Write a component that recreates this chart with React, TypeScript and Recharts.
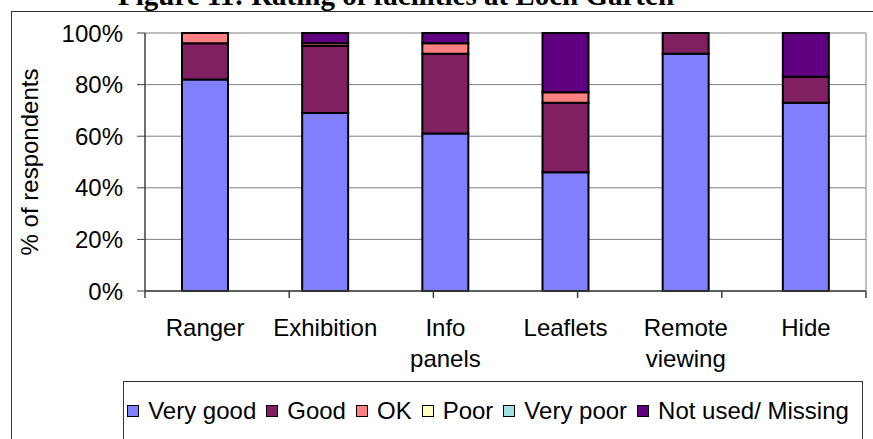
import React from "react";
import {
  BarChart,
  Bar,
  XAxis,
  YAxis,
  CartesianGrid,
  Legend,
  Label,
} from "recharts";

const categories = ["Ranger", "Exhibition", "Info panels", "Leaflets", "Remote viewing", "Hide"];
const veryGood = [82, 69, 61, 46, 92, 73];
const good = [14, 26, 31, 27, 8, 10];
const ok = [4, 1, 4, 4, 0, 0];
const poor = [0, 0, 0, 0, 0, 0];
const veryPoor = [0, 0, 0, 0, 0, 0];
const notUsed = [0, 4, 4, 23, 0, 17];
const yTicks = [0, 20, 40, 60, 80, 100];

const series = [
  { key: "veryGood", name: "Very good", color: "#8080FF", values: veryGood },
  { key: "good", name: "Good", color: "#802060", values: good },
  { key: "ok", name: "OK", color: "#FF8080", values: ok },
  { key: "poor", name: "Poor", color: "#FFFFC0", values: poor },
  { key: "veryPoor", name: "Very poor", color: "#A0E0E0", values: veryPoor },
  { key: "notUsed", name: "Not used/ Missing", color: "#600080", values: notUsed },
];

const data = categories.map((name, i) => {
  const row: Record<string, string | number> = { name };
  series.forEach((s) => (row[s.key] = s.values[i]));
  return row;
});

// ticks on the category boundaries, not the centres
const edgeTicks = categories.map((_, i) => i).concat(categories.length);

const FONT = "'Liberation Sans', Arial, sans-serif";
const AXIS = "#404040";
const GRID = "#808080";

function EdgeTick({ x, y }: any) {
  return <line x1={x} x2={x} y1={y} y2={y + 7} stroke={AXIS} strokeWidth={1.5} />;
}

function CategoryTick({ x, y, payload }: any) {
  const lines = String(payload.value).split(" ");
  return (
    <text x={x} y={y} textAnchor="middle" fill="#000" fontSize={24} fontFamily={FONT}>
      {lines.map((ln, i) => (
        <tspan key={i} x={x} dy={i === 0 ? 35 : 31}>
          {ln}
        </tspan>
      ))}
    </text>
  );
}

function YTitle({ viewBox }: any) {
  const cx = viewBox.x + 38;
  const cy = viewBox.y + viewBox.height / 2;
  return (
    <text
      x={cx}
      y={cy}
      transform={`rotate(-90 ${cx} ${cy})`}
      textAnchor="middle"
      fill="#000"
      fontSize={24}
      fontFamily={FONT}
    >
      % of respondents
    </text>
  );
}

function LegendBox({ payload }: any) {
  const items = [...(payload || [])].sort(
    (a: any, b: any) =>
      series.findIndex((s) => s.name === a.value) - series.findIndex((s) => s.name === b.value)
  );
  return (
    <div
      style={{
        display: "flex",
        justifyContent: "center",
        alignItems: "center",
        height: "100%",
        fontFamily: FONT,
        fontSize: 24,
        color: "#000",
        whiteSpace: "nowrap",
      }}
    >
      {items.map((p: any) => (
        <div key={p.value} style={{ display: "flex", alignItems: "center", marginRight: 10 }}>
          <span
            style={{
              width: 10,
              height: 10,
              background: p.color,
              border: "1px solid #000",
              marginRight: 9,
              display: "inline-block",
            }}
          />
          <span>{p.value}</span>
        </div>
      ))}
    </div>
  );
}

export default function App() {
  return (
    <div
      style={{
        position: "absolute",
        left: 0,
        top: 0,
        width: 873,
        height: 439,
        overflow: "hidden",
        background: "#fff",
      }}
    >
      <div
        style={{
          position: "absolute",
          left: 0,
          top: -19,
          width: 792,
          textAlign: "center",
          fontFamily: "'Liberation Serif', 'Times New Roman', serif",
          fontWeight: "bold",
          fontSize: 29,
          lineHeight: "29px",
          whiteSpace: "nowrap",
        }}
      >
        Figure 11: Rating of facilities at Loch Garten
      </div>
      <div
        style={{
          position: "absolute",
          left: 11,
          top: 11,
          width: 900,
          height: 500,
          border: "1px solid #333",
        }}
      />
      <div style={{ position: "absolute", left: 0, top: 0 }}>
        <BarChart
          width={873}
          height={439}
          data={data}
          margin={{ top: 33, right: 0, bottom: 87, left: 0 }}
        >
          <CartesianGrid stroke={GRID} vertical={false} />
          <XAxis
            type="number"
            domain={[0, categories.length]}
            ticks={edgeTicks}
            interval={0}
            height={1}
            tickLine={false}
            tickSize={0}
            tickMargin={0}
            tick={<EdgeTick />}
            axisLine={{ stroke: AXIS, strokeWidth: 1.5 }}
          />
          <XAxis
            xAxisId="cat"
            dataKey="name"
            height={60}
            interval={0}
            axisLine={false}
            tickLine={false}
            tickSize={7}
            tick={<CategoryTick />}
          />
          <YAxis
            domain={[0, 100]}
            ticks={yTicks}
            interval={0}
            width={145}
            tickFormatter={(v) => `${v}%`}
            tick={{ fill: "#000", fontSize: 24, fontFamily: FONT }}
            axisLine={{ stroke: AXIS, strokeWidth: 1.5 }}
            tickLine={{ stroke: AXIS }}
            tickSize={8}
            tickMargin={14}
          >
            <Label content={<YTitle />} />
          </YAxis>
          <YAxis
            yAxisId="r"
            orientation="right"
            domain={[0, 100]}
            width={7}
            tick={false}
            tickLine={false}
            axisLine={{ stroke: GRID }}
          />
          {series.map((s) => (
            <Bar
              key={s.key}
              xAxisId="cat"
              dataKey={s.key}
              name={s.name}
              stackId="a"
              fill={s.color}
              stroke="#000"
              strokeWidth={2}
              barSize={46}
              isAnimationActive={false}
            />
          ))}
          <Legend
            layout="horizontal"
            verticalAlign="middle"
            align="center"
            wrapperStyle={{
              left: 123,
              top: 381,
              width: 740,
              height: 60,
              border: "1px solid #333",
              boxSizing: "border-box",
              background: "#fff",
            }}
            content={<LegendBox />}
          />
        </BarChart>
      </div>
    </div>
  );
}
